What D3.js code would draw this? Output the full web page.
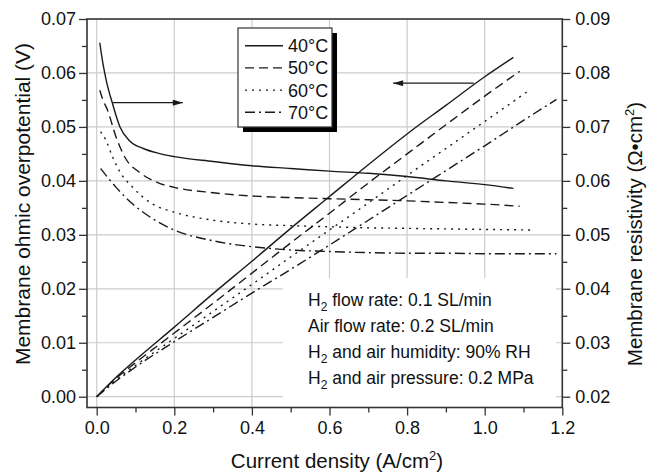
<!DOCTYPE html>
<html>
<head>
<meta charset="utf-8">
<script src="https://cdn.jsdelivr.net/npm/d3@7/dist/d3.min.js"></script>
<style>
  body{margin:0;background:#fff;}
  svg text{font-family:"Liberation Sans",Arial,sans-serif;fill:#111;}
</style>
</head>
<body>
<svg id="canvas" width="661" height="472"></svg>
<script>
// legend labels
let temps=["40°C","50°C","60°C","70°C"];

// membrane resistivity (right axis), current density in A/cm2
let jR40=[0.008,0.015,0.025,0.04,0.06,0.085,0.12,0.16,0.2,0.3,0.4,0.5,0.6,0.7,0.8,0.9,1.0,1.074];
let res40=[0.0856,0.0822,0.0785,0.0745,0.0700,0.0674,0.0660,0.0651,0.0645,0.0636,0.0628,0.0623,0.0618,0.0614,0.0608,0.0600,0.0593,0.0586];
let jR50=[0.008,0.015,0.028,0.05,0.075,0.11,0.16,0.2,0.3,0.4,0.5,0.6,0.7,0.8,0.9,1.0,1.09];
let res50=[0.0768,0.0752,0.0731,0.0681,0.0641,0.0616,0.0596,0.0588,0.0578,0.0572,0.0569,0.0567,0.0565,0.0563,0.0560,0.0557,0.0553];
let jR60=[0.01,0.024,0.04,0.058,0.093,0.144,0.2,0.3,0.4,0.5,0.6,0.7,0.8,0.9,1.0,1.117];
let res60=[0.0691,0.0675,0.0646,0.0619,0.0588,0.0557,0.0542,0.0527,0.0520,0.0517,0.0515,0.0513,0.0512,0.0511,0.0510,0.0509];
let jR70=[0.01,0.03,0.05,0.093,0.144,0.196,0.3,0.4,0.5,0.6,0.7,0.8,0.9,1.0,1.1,1.185];
let res70=[0.0623,0.0605,0.0588,0.0557,0.0530,0.0510,0.0489,0.0478,0.0472,0.0469,0.0467,0.0466,0.0466,0.0465,0.0465,0.0465];

// membrane ohmic overpotential (left axis)
let jV40=[0,0.05,0.1,0.2,0.3,0.4,0.5,0.6,0.7,0.8,0.9,1.0,1.074];
let vol40=[0,0.0036,0.0068,0.0129,0.0191,0.0251,0.0312,0.0371,0.0430,0.0487,0.0540,0.0593,0.0629];
let jV50=[0,0.05,0.1,0.2,0.3,0.4,0.5,0.6,0.7,0.8,0.9,1.0,1.09];
let vol50=[0,0.0034,0.0063,0.0118,0.0173,0.0229,0.0285,0.0340,0.0396,0.0450,0.0504,0.0557,0.0603];
let jV60=[0,0.05,0.1,0.2,0.3,0.4,0.5,0.6,0.7,0.8,0.9,1.0,1.117];
let vol60=[0,0.0031,0.0058,0.0108,0.0158,0.0208,0.0259,0.0309,0.0359,0.0410,0.0460,0.0510,0.0569];
let jV70=[0,0.05,0.1,0.2,0.3,0.4,0.5,0.6,0.7,0.8,0.9,1.0,1.1,1.185];
let vol70=[0,0.0029,0.0055,0.0102,0.0147,0.0192,0.0236,0.0281,0.0327,0.0373,0.0419,0.0465,0.0512,0.0551];

// ticks
let xMajor=[0,0.2,0.4,0.6,0.8,1.0,1.2];
let xMinor=[0.1,0.3,0.5,0.7,0.9,1.1];
let yLMajor=[0,0.01,0.02,0.03,0.04,0.05,0.06,0.07];
let yLMinor=[0.005,0.015,0.025,0.035,0.045,0.055,0.065];
let yRMajor=[0.02,0.03,0.04,0.05,0.06,0.07,0.08,0.09];
let yRMinor=[0.025,0.035,0.045,0.055,0.065,0.075,0.085];

let notes=["flow rate: 0.1 SL/min","Air flow rate: 0.2 SL/min","and air humidity: 90% RH","and air pressure: 0.2 MPa"];
let noteH2=[true,false,true,true];

let canvas=d3.select("#canvas");
let L=87,R=562.3,T=19,B=407.5;

let xScale=d3.scaleLinear().domain([-0.025,1.2]).range([L,R]);
let yLeft=d3.scaleLinear().domain([-0.002,0.07]).range([B,T]);
let yRight=d3.scaleLinear().domain([0.018,0.09]).range([B,T]);

let dashes={"40°C":null,"50°C":"9,5","60°C":"2,5","70°C":"10,4,2,4"};
let ink="#1a1a1a";

// grid
let grid=canvas.append("g").attr("stroke","#cccccc").attr("stroke-width",1.2);
grid.selectAll(".gx").data(xMajor.slice(0,-1)).enter().append("line")
  .attr("x1",d=>xScale(d)).attr("x2",d=>xScale(d)).attr("y1",T).attr("y2",B);
grid.selectAll(".gy").data(yLMajor.slice(0,-1)).enter().append("line")
  .attr("x1",L).attr("x2",R).attr("y1",d=>yLeft(d)).attr("y2",d=>yLeft(d));

// white box behind the conditions text
canvas.append("rect").attr("x",xScale(0.48)).attr("y",yLeft(0.022))
  .attr("width",xScale(1.184)-xScale(0.48)).attr("height",yLeft(-0.0018)-yLeft(0.022)).attr("fill","#fff");

// axes
let fmt1=d3.format(".1f"),fmt2=d3.format(".2f");
function axisStyle(g){
  g.select(".domain").remove();
  g.selectAll(".tick line").attr("stroke","#333").attr("stroke-width",1.3);
  g.selectAll(".tick text").style("font-size","18px").attr("fill","#111");
}
canvas.append("g").attr("transform","translate(0,"+B+")")
  .call(d3.axisBottom(xScale).tickValues(xMajor).tickFormat(fmt1).tickSize(8).tickPadding(6)).call(axisStyle);
canvas.append("g").attr("transform","translate(0,"+B+")")
  .call(d3.axisBottom(xScale).tickValues(xMinor).tickFormat("").tickSize(5)).call(axisStyle);
canvas.append("g").attr("transform","translate("+L+",0)")
  .call(d3.axisLeft(yLeft).tickValues(yLMajor).tickFormat(fmt2).tickSize(8).tickPadding(3)).call(axisStyle);
canvas.append("g").attr("transform","translate("+L+",0)")
  .call(d3.axisLeft(yLeft).tickValues(yLMinor).tickFormat("").tickSize(5)).call(axisStyle);
canvas.append("g").attr("transform","translate("+R+",0)")
  .call(d3.axisRight(yRight).tickValues(yRMajor).tickFormat(fmt2).tickSize(8).tickPadding(5)).call(axisStyle);
canvas.append("g").attr("transform","translate("+R+",0)")
  .call(d3.axisRight(yRight).tickValues(yRMinor).tickFormat("").tickSize(5)).call(axisStyle);

canvas.append("rect").attr("x",L).attr("y",T).attr("width",R-L).attr("height",B-T)
  .attr("fill","none").attr("stroke","#333").attr("stroke-width",1.6);

// curves
let resSeries=[[jR40,res40],[jR50,res50],[jR60,res60],[jR70,res70]];
let volSeries=[[jV40,vol40],[jV50,vol50],[jV60,vol60],[jV70,vol70]];
let lineR=d3.line().x(d=>xScale(d[0])).y(d=>yRight(d[1])).curve(d3.curveMonotoneX);
let lineV=d3.line().x(d=>xScale(d[0])).y(d=>yLeft(d[1])).curve(d3.curveMonotoneX);

temps.forEach((t,i)=>{
  let r=d3.zip(resSeries[i][0],resSeries[i][1]);
  let v=d3.zip(volSeries[i][0],volSeries[i][1]);
  canvas.append("path").attr("d",lineR(r)).attr("fill","none").attr("stroke",ink).attr("stroke-width",1.4).attr("stroke-dasharray",dashes[t]);
  canvas.append("path").attr("d",lineV(v)).attr("fill","none").attr("stroke",ink).attr("stroke-width",1.4).attr("stroke-dasharray",dashes[t]);
});

// arrows
canvas.append("defs").append("marker").attr("id","head").attr("viewBox","0 0 10 6")
  .attr("refX",10).attr("refY",3).attr("markerWidth",11).attr("markerHeight",6)
  .attr("markerUnits","userSpaceOnUse").attr("orient","auto")
  .append("path").attr("d","M0,0L10,3L0,6Z").attr("fill",ink);
canvas.append("line").attr("x1",xScale(0.04)).attr("x2",xScale(0.222)).attr("y1",yLeft(0.0545)).attr("y2",yLeft(0.0545))
  .attr("stroke",ink).attr("stroke-width",1.3).attr("marker-end","url(#head)");
canvas.append("line").attr("x1",xScale(0.972)).attr("x2",xScale(0.764)).attr("y1",yLeft(0.0581)).attr("y2",yLeft(0.0581))
  .attr("stroke",ink).attr("stroke-width",1.3).attr("marker-end","url(#head)");

// legend
let lg=canvas.append("g").attr("transform","translate(238,28)");
lg.append("rect").attr("x",5).attr("y",5).attr("width",94).attr("height",99).attr("fill","#000");
lg.append("rect").attr("x",0).attr("y",0).attr("width",94).attr("height",99).attr("fill","#fff").attr("stroke","#333").attr("stroke-width",1.2);
temps.forEach((t,i)=>{
  let yy=17.7+i*22.2;
  lg.append("line").attr("x1",7).attr("x2",45).attr("y1",yy).attr("y2",yy)
    .attr("stroke",ink).attr("stroke-width",1.4).attr("stroke-dasharray",dashes[t]);
  lg.append("text").attr("x",50).attr("y",yy+6.5).style("font-size","18px").text(t);
});

// conditions text
notes.forEach((n,i)=>{
  let tx=canvas.append("text").attr("x",308).attr("y",306+i*26).style("font-size","17.5px");
  if(noteH2[i]){
    tx.append("tspan").text("H");
    tx.append("tspan").attr("dy",5).style("font-size","12px").text("2");
    tx.append("tspan").attr("dy",-5).text(" "+n);
  } else {
    tx.text(n);
  }
});

// axis titles
let xt=canvas.append("text").attr("x",337).attr("y",468).attr("text-anchor","middle").style("font-size","20.5px");
xt.append("tspan").text("Current density (A/cm");
xt.append("tspan").attr("dy",-8).style("font-size","13px").text("2");
xt.append("tspan").attr("dy",8).text(")");

canvas.append("text").attr("transform","translate(30,204) rotate(-90)").attr("text-anchor","middle")
  .style("font-size","21px").text("Membrane ohmic overpotential (V)");

let yt=canvas.append("text").attr("transform","translate(642,234) rotate(-90)").attr("text-anchor","middle").style("font-size","20.5px");
yt.append("tspan").text("Membrane resistivity (Ω•cm");
yt.append("tspan").attr("dy",-8).style("font-size","13px").text("2");
yt.append("tspan").attr("dy",8).text(")");
</script>
</body>
</html>
